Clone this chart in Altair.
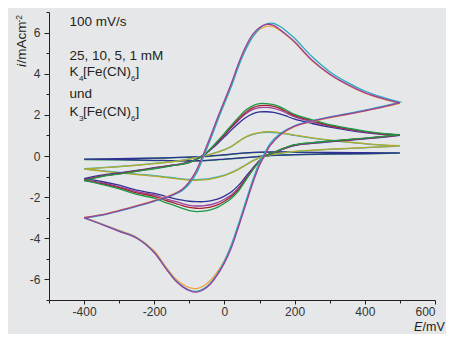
import altair as alt
import pandas as pd

# Potential grids (mV)
E_fwd = [-400, -350, -300, -250, -200, -150, -120, -100, -80, -60, -40, -20, 0, 20, 40,
         60, 80, 100, 120, 140, 160, 180, 200, 250, 300, 350, 400, 450, 500]
E_rev = [500, 450, 400, 350, 300, 250, 200, 160, 130, 115, 100, 80, 60, 40, 20, 0,
         -20, -40, -60, -80, -100, -120, -140, -170, -200, -250, -300, -350, -400]
E_fwd_1 = [-400, -300, -200, -150, -100, -60, -20, 20, 60, 100, 140, 200, 300, 400, 500]
E_rev_1 = [500, 400, 300, 200, 150, 115, 80, 40, 0, -40, -80, -120, -160, -200, -300, -400]

# 25 mM
c25_mag_f = [-3.00, -2.86, -2.66, -2.43, -2.18, -1.90, -1.62, -1.25, -0.70, 0.10, 0.95, 1.85, 2.70, 3.55, 4.50,
             5.30, 5.90, 6.25, 6.40, 6.35, 6.12, 5.85, 5.55, 4.65, 3.98, 3.48, 3.08, 2.80, 2.58]
c25_mag_r = [2.58, 2.38, 2.20, 2.03, 1.88, 1.70, 1.45, 1.05, 0.50, 0.05, -0.45, -1.35, -2.40, -3.45, -4.45, -5.20,
             -5.78, -6.22, -6.50, -6.62, -6.55, -6.35, -6.05, -5.40, -4.70, -4.00, -3.66, -3.33, -3.00]
c25_cya_f = [-3.02, -2.88, -2.68, -2.45, -2.20, -1.93, -1.68, -1.35, -0.85, -0.05, 0.80, 1.70, 2.55, 3.40, 4.35,
             5.15, 5.78, 6.20, 6.42, 6.45, 6.28, 6.02, 5.72, 4.82, 4.10, 3.58, 3.16, 2.86, 2.62]
c25_cya_r = [2.62, 2.41, 2.23, 2.06, 1.90, 1.72, 1.47, 1.10, 0.60, 0.15, -0.30, -1.20, -2.25, -3.30, -4.30, -5.10,
             -5.72, -6.18, -6.46, -6.58, -6.52, -6.32, -6.02, -5.38, -4.68, -3.98, -3.64, -3.31, -3.02]
c25_ora_f = [-2.98, -2.85, -2.64, -2.41, -2.16, -1.88, -1.62, -1.30, -0.78, 0.00, 0.85, 1.75, 2.60, 3.45, 4.40,
             5.20, 5.78, 6.15, 6.30, 6.28, 6.08, 5.82, 5.52, 4.62, 3.96, 3.46, 3.06, 2.78, 2.56]
c25_ora_r = [2.56, 2.36, 2.18, 2.01, 1.86, 1.68, 1.43, 1.03, 0.50, 0.05, -0.42, -1.30, -2.35, -3.38, -4.35, -5.08,
             -5.62, -6.05, -6.32, -6.45, -6.40, -6.22, -5.95, -5.32, -4.62, -3.95, -3.62, -3.30, -2.98]

# 10 mM
c10_grn_f = [-1.20, -1.00, -0.88, -0.75, -0.62, -0.48, -0.40, -0.32, -0.17, 0.03, 0.35, 0.72, 1.10, 1.50, 1.88,
             2.22, 2.44, 2.55, 2.55, 2.50, 2.38, 2.20, 2.02, 1.76, 1.52, 1.36, 1.21, 1.10, 1.04]
c10_grn_r = [1.04, 0.95, 0.87, 0.80, 0.73, 0.65, 0.55, 0.32, 0.10, 0.00, -0.25, -0.70, -1.20, -1.70, -2.05, -2.30,
             -2.50, -2.62, -2.68, -2.70, -2.66, -2.55, -2.42, -2.25, -2.05, -1.87, -1.60, -1.38, -1.20]
c10_red_f = [-1.18, -0.98, -0.86, -0.73, -0.60, -0.47, -0.39, -0.31, -0.16, 0.03, 0.33, 0.68, 1.05, 1.43, 1.80,
             2.12, 2.34, 2.45, 2.46, 2.41, 2.30, 2.13, 1.96, 1.71, 1.48, 1.33, 1.19, 1.08, 1.03]
c10_red_r = [1.03, 0.94, 0.86, 0.79, 0.72, 0.64, 0.54, 0.31, 0.10, 0.00, -0.24, -0.67, -1.15, -1.62, -1.96, -2.20,
             -2.38, -2.48, -2.53, -2.54, -2.50, -2.41, -2.30, -2.14, -1.96, -1.79, -1.54, -1.34, -1.18]
c10_mag_f = [-1.16, -0.97, -0.85, -0.72, -0.59, -0.46, -0.38, -0.30, -0.16, 0.03, 0.32, 0.66, 1.01, 1.38, 1.73,
             2.04, 2.25, 2.35, 2.36, 2.32, 2.22, 2.06, 1.90, 1.66, 1.45, 1.30, 1.17, 1.07, 1.02]
c10_mag_r = [1.02, 0.93, 0.85, 0.78, 0.71, 0.63, 0.53, 0.30, 0.10, 0.00, -0.23, -0.64, -1.10, -1.55, -1.88, -2.10,
             -2.27, -2.37, -2.42, -2.43, -2.40, -2.31, -2.21, -2.06, -1.89, -1.73, -1.50, -1.30, -1.16]
c10_blu_f = [-1.10, -0.93, -0.82, -0.70, -0.57, -0.45, -0.37, -0.29, -0.15, 0.03, 0.30, 0.60, 0.93, 1.27, 1.58,
             1.86, 2.05, 2.14, 2.15, 2.12, 2.04, 1.92, 1.79, 1.58, 1.40, 1.26, 1.14, 1.05, 1.00]
c10_blu_r = [1.00, 0.91, 0.83, 0.76, 0.69, 0.61, 0.51, 0.29, 0.09, 0.00, -0.22, -0.60, -1.02, -1.43, -1.74, -1.95,
             -2.10, -2.18, -2.22, -2.22, -2.20, -2.15, -2.08, -1.95, -1.82, -1.66, -1.42, -1.24, -1.10]

# 5 mM
c5_olv_f = [-0.64, -0.58, -0.52, -0.45, -0.37, -0.28, -0.21, -0.15, -0.08, 0.00, 0.08, 0.18, 0.30, 0.46, 0.70,
            0.92, 1.06, 1.14, 1.18, 1.17, 1.13, 1.08, 1.02, 0.88, 0.77, 0.68, 0.60, 0.54, 0.50]
c5_olv_r = [0.50, 0.45, 0.41, 0.37, 0.33, 0.28, 0.22, 0.14, 0.06, 0.00, -0.08, -0.25, -0.45, -0.65, -0.82, -0.95,
            -1.05, -1.12, -1.16, -1.18, -1.17, -1.14, -1.10, -1.04, -0.98, -0.90, -0.82, -0.73, -0.64]
c5_cya_f = [-0.62, -0.57, -0.51, -0.44, -0.36, -0.27, -0.20, -0.14, -0.07, 0.01, 0.09, 0.19, 0.31, 0.47, 0.70,
            0.91, 1.04, 1.12, 1.15, 1.14, 1.11, 1.06, 1.00, 0.87, 0.76, 0.67, 0.59, 0.53, 0.49]
c5_cya_r = [0.49, 0.44, 0.40, 0.36, 0.32, 0.27, 0.21, 0.13, 0.05, 0.00, -0.08, -0.24, -0.44, -0.63, -0.80, -0.93,
            -1.02, -1.09, -1.13, -1.15, -1.14, -1.11, -1.07, -1.01, -0.95, -0.88, -0.80, -0.71, -0.62]

# 1 mM
c1_blu_f = [-0.15, -0.13, -0.10, -0.08, -0.05, -0.02, 0.03, 0.09, 0.15, 0.19, 0.20, 0.19, 0.17, 0.16, 0.15]
c1_blu_r = [0.15, 0.12, 0.10, 0.07, 0.04, 0.00, -0.05, -0.10, -0.15, -0.20, -0.23, -0.23, -0.22, -0.21, -0.18, -0.15]
c1_grn_f = [-0.17, -0.14, -0.11, -0.09, -0.06, -0.03, 0.02, 0.08, 0.14, 0.18, 0.19, 0.18, 0.16, 0.15, 0.14]
c1_grn_r = [0.14, 0.11, 0.09, 0.06, 0.03, 0.00, -0.05, -0.11, -0.16, -0.21, -0.24, -0.24, -0.23, -0.22, -0.19, -0.17]

traces = [
    ("1mM_green", "#1f9a45", E_fwd_1, c1_grn_f, E_rev_1, c1_grn_r),
    ("1mM_blue", "#2e3192", E_fwd_1, c1_blu_f, E_rev_1, c1_blu_r),
    ("5mM_cyan", "#35b0c4", E_fwd, c5_cya_f, E_rev, c5_cya_r),
    ("5mM_olive", "#b3a92c", E_fwd, c5_olv_f, E_rev, c5_olv_r),
    ("10mM_blue", "#2e3192", E_fwd, c10_blu_f, E_rev, c10_blu_r),
    ("10mM_magenta", "#9c3f9f", E_fwd, c10_mag_f, E_rev, c10_mag_r),
    ("10mM_red", "#a3202c", E_fwd, c10_red_f, E_rev, c10_red_r),
    ("10mM_green", "#1a9a48", E_fwd, c10_grn_f, E_rev, c10_grn_r),
    ("25mM_orange", "#f4a23a", E_fwd, c25_ora_f, E_rev, c25_ora_r),
    ("25mM_cyan", "#27a9bb", E_fwd, c25_cya_f, E_rev, c25_cya_r),
    ("25mM_magenta", "#9c3f9f", E_fwd, c25_mag_f, E_rev, c25_mag_r),
]

rows = []
for t_i, (name, col, ef, jf, er, jr) in enumerate(traces):
    k = 0
    for e, j in zip(ef + er, jf + jr):
        rows.append({"trace": name, "E": e, "i": j, "idx": k})
        k += 1
df = pd.DataFrame(rows)

names = [t[0] for t in traces]
colors = [t[1] for t in traces]

FONT = "Liberation Sans"
INK = "#231f20"

lines = alt.Chart(df).mark_line(strokeWidth=1.3, interpolate="catmull-rom").encode(
    x=alt.X("E:Q",
            scale=alt.Scale(domain=[-500, 600], nice=False, zero=False),
            axis=alt.Axis(values=list(range(-500, 601, 100)),
                          labelExpr="datum.value % 200 === 0 ? '' + datum.value : ''",
                          tickSize={"condition": {"test": "datum.value % 200 === 0", "value": 4}, "value": 3},
                          title=None, grid=False, labelPadding=2)),
    y=alt.Y("i:Q",
            scale=alt.Scale(domain=[-7, 7], nice=False, zero=False),
            axis=alt.Axis(values=list(range(-7, 8, 1)),
                          labelExpr="datum.value % 2 === 0 ? '' + datum.value : ''",
                          tickSize={"condition": {"test": "datum.value % 2 === 0", "value": 5}, "value": 3},
                          title=None, grid=False, labelPadding=4)),
    color=alt.Color("trace:N", scale=alt.Scale(domain=names, range=colors), legend=None),
    detail="trace:N",
    order="idx:Q",
)


def txt(t, x, y, size=13.5, style="normal", angle=0):
    return alt.Chart(pd.DataFrame({"t": [t]})).mark_text(
        align="left", baseline="alphabetic", font=FONT, fontSize=size,
        fontStyle=style, color=INK, angle=angle
    ).encode(x=alt.value(x), y=alt.value(y), text="t:N")


annots = [
    txt("100 mV/s", 20.5, 14),
    txt("25, 10, 5, 1 mM", 20.5, 48),
    txt("K", 20.5, 63.5), txt("4", 30, 69, 8), txt("[Fe(CN)", 34, 63.5), txt("6", 82, 69, 8), txt("]", 86.5, 63.5),
    txt("und", 20.5, 86),
    txt("K", 20.5, 103.5), txt("3", 30, 109, 8), txt("[Fe(CN)", 34, 103.5), txt("6", 82, 109, 8), txt("]", 86.5, 103.5),
    # y title (rotated)
    txt("i", -23, 55, 13.5, "italic", 270),
    txt("/mAcm", -23, 51.5, 13.5, "normal", 270),
    txt("-2", -27, 10.5, 8.5, "normal", 270),
    # x title
    txt("E", 365, 319, 12.5, "italic"),
    txt("/mV", 373.5, 319, 12.5),
]

chart = alt.layer(lines, *annots).properties(
    width=386, height=288,
    padding={"left": 41, "top": 4, "right": 11, "bottom": 34},
    autosize=alt.AutoSizeParams(type="none"),
).configure(
    background="#e6e7e9",
).configure_view(
    stroke=None,
).configure_axis(
    domainColor=INK, tickColor=INK, labelColor="#333333",
    labelFont=FONT, labelFontSize=12, domainWidth=1, tickWidth=1,
)

chart.save("out.html", embed_options={"renderer": "svg", "actions": False})
